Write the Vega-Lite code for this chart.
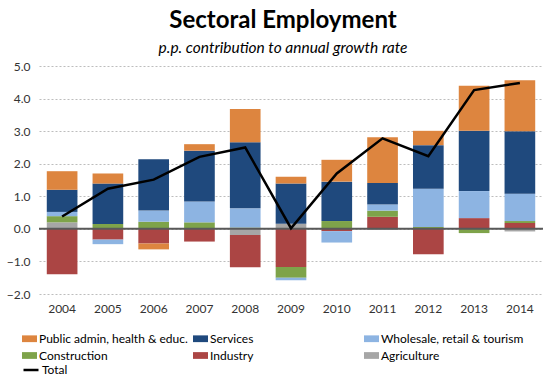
{
  "$schema": "https://vega.github.io/schema/vega-lite/v6.json",
  "width": 504,
  "height": 228,
  "autosize": "none",
  "padding": {"left": 39, "top": 66, "right": 1, "bottom": 83},
  "title": {
    "text": "Sectoral Employment",
    "subtitle": "p.p. contribution to annual growth rate",
    "anchor": "middle",
    "dx": -8,
    "offset": 4,
    "font": "Lato",
    "fontSize": 24,
    "fontWeight": "bold",
    "color": "#000000",
    "subtitleFont": "Lato",
    "subtitleFontSize": 15.5,
    "subtitleFontStyle": "italic",
    "subtitleColor": "#000000",
    "subtitlePadding": 8
  },
  "config": {
    "font": "Lato",
    "view": {"stroke": null},
    "axisY": {
      "domain": false,
      "ticks": false,
      "labelPadding": 9,
      "labelFontSize": 12,
      "labelColor": "#333333",
      "labelOverlap": false,
      "grid": true,
      "gridColor": "#bdbdbd",
      "gridDash": [2, 2],
      "gridWidth": 1
    }
  },
  "datasets": {
    "contrib": [
      {"year": "2004", "sector": "Agriculture", "value": 0.20},
      {"year": "2004", "sector": "Industry", "value": -1.39},
      {"year": "2004", "sector": "Construction", "value": 0.19},
      {"year": "2004", "sector": "Wholesale, retail & tourism", "value": 0.13},
      {"year": "2004", "sector": "Services", "value": 0.68},
      {"year": "2004", "sector": "Public admin, health & educ.", "value": 0.57},
      {"year": "2005", "sector": "Industry", "value": -0.33},
      {"year": "2005", "sector": "Construction", "value": 0.15},
      {"year": "2005", "sector": "Wholesale, retail & tourism", "value": -0.14},
      {"year": "2005", "sector": "Services", "value": 1.24},
      {"year": "2005", "sector": "Public admin, health & educ.", "value": 0.31},
      {"year": "2006", "sector": "Industry", "value": -0.45},
      {"year": "2006", "sector": "Construction", "value": 0.22},
      {"year": "2006", "sector": "Wholesale, retail & tourism", "value": 0.34},
      {"year": "2006", "sector": "Services", "value": 1.58},
      {"year": "2006", "sector": "Public admin, health & educ.", "value": -0.18},
      {"year": "2007", "sector": "Industry", "value": -0.39},
      {"year": "2007", "sector": "Construction", "value": 0.20},
      {"year": "2007", "sector": "Wholesale, retail & tourism", "value": 0.64},
      {"year": "2007", "sector": "Services", "value": 1.56},
      {"year": "2007", "sector": "Public admin, health & educ.", "value": 0.20},
      {"year": "2008", "sector": "Agriculture", "value": -0.19},
      {"year": "2008", "sector": "Industry", "value": -0.99},
      {"year": "2008", "sector": "Construction", "value": 0.04},
      {"year": "2008", "sector": "Wholesale, retail & tourism", "value": 0.59},
      {"year": "2008", "sector": "Services", "value": 2.03},
      {"year": "2008", "sector": "Public admin, health & educ.", "value": 1.02},
      {"year": "2009", "sector": "Agriculture", "value": 0.16},
      {"year": "2009", "sector": "Industry", "value": -1.17},
      {"year": "2009", "sector": "Construction", "value": -0.33},
      {"year": "2009", "sector": "Wholesale, retail & tourism", "value": -0.08},
      {"year": "2009", "sector": "Services", "value": 1.23},
      {"year": "2009", "sector": "Public admin, health & educ.", "value": 0.21},
      {"year": "2010", "sector": "Industry", "value": -0.07},
      {"year": "2010", "sector": "Construction", "value": 0.24},
      {"year": "2010", "sector": "Wholesale, retail & tourism", "value": -0.35},
      {"year": "2010", "sector": "Services", "value": 1.21},
      {"year": "2010", "sector": "Public admin, health & educ.", "value": 0.67},
      {"year": "2011", "sector": "Agriculture", "value": -0.03},
      {"year": "2011", "sector": "Industry", "value": 0.37},
      {"year": "2011", "sector": "Construction", "value": 0.19},
      {"year": "2011", "sector": "Wholesale, retail & tourism", "value": 0.19},
      {"year": "2011", "sector": "Services", "value": 0.66},
      {"year": "2011", "sector": "Public admin, health & educ.", "value": 1.40},
      {"year": "2012", "sector": "Industry", "value": -0.78},
      {"year": "2012", "sector": "Construction", "value": 0.06},
      {"year": "2012", "sector": "Wholesale, retail & tourism", "value": 1.17},
      {"year": "2012", "sector": "Services", "value": 1.34},
      {"year": "2012", "sector": "Public admin, health & educ.", "value": 0.44},
      {"year": "2013", "sector": "Industry", "value": 0.33},
      {"year": "2013", "sector": "Construction", "value": -0.13},
      {"year": "2013", "sector": "Wholesale, retail & tourism", "value": 0.83},
      {"year": "2013", "sector": "Services", "value": 1.85},
      {"year": "2013", "sector": "Public admin, health & educ.", "value": 1.38},
      {"year": "2014", "sector": "Agriculture", "value": -0.08},
      {"year": "2014", "sector": "Industry", "value": 0.18},
      {"year": "2014", "sector": "Construction", "value": 0.06},
      {"year": "2014", "sector": "Wholesale, retail & tourism", "value": 0.84},
      {"year": "2014", "sector": "Services", "value": 1.92},
      {"year": "2014", "sector": "Public admin, health & educ.", "value": 1.56}
    ],
    "total": [
      {"year": "2004", "series": "Total", "total": 0.38},
      {"year": "2005", "series": "Total", "total": 1.23},
      {"year": "2006", "series": "Total", "total": 1.51},
      {"year": "2007", "series": "Total", "total": 2.21},
      {"year": "2008", "series": "Total", "total": 2.50},
      {"year": "2009", "series": "Total", "total": 0.02},
      {"year": "2010", "series": "Total", "total": 1.70},
      {"year": "2011", "series": "Total", "total": 2.78},
      {"year": "2012", "series": "Total", "total": 2.23},
      {"year": "2013", "series": "Total", "total": 4.26},
      {"year": "2014", "series": "Total", "total": 4.48}
    ]
  },
  "layer": [
    {
      "data": {"name": "contrib"},
      "transform": [
        {
          "calculate": "indexof(['Agriculture', 'Industry', 'Construction', 'Wholesale, retail & tourism', 'Services', 'Public admin, health & educ.'], datum.sector)",
          "as": "stackOrder"
        }
      ],
      "mark": {"type": "bar"},
      "encoding": {
        "x": {
          "field": "year",
          "type": "ordinal",
          "title": null,
          "scale": {"paddingInner": 0.33, "paddingOuter": 0.17},
          "axis": {
            "orient": "bottom",
            "domain": false,
            "ticks": false,
            "labelAngle": 0,
            "labelPadding": 9,
            "labelFontSize": 12,
            "labelColor": "#333333"
          }
        },
        "y": {
          "field": "value",
          "type": "quantitative",
          "stack": "zero",
          "title": null,
          "scale": {"domain": [-2, 5], "nice": false, "zero": false},
          "axis": {"values": [-2, -1, 0, 1, 2, 3, 4, 5], "format": ".1f", "title": null}
        },
        "color": {
          "field": "sector",
          "type": "nominal",
          "scale": {
            "domain": ["Public admin, health & educ.", "Services", "Wholesale, retail & tourism", "Construction", "Industry", "Agriculture"],
            "range": ["#dd853f", "#1f497d", "#8db4e2", "#7ea34a", "#ab4544", "#a6a6a6"]
          },
          "legend": {
            "title": null,
            "orient": "none",
            "legendX": -17,
            "legendY": 265,
            "direction": "horizontal",
            "columns": 3,
            "gridAlign": "all",
            "columnPadding": 5,
            "rowPadding": 3,
            "labelFontSize": 12,
            "labelColor": "#000000",
            "labelLimit": 300,
            "labelOffset": 2,
            "symbolType": "M-1,-0.45H1V0.45H-1Z",
            "symbolSize": 225,
            "symbolStrokeWidth": 0
          }
        },
        "order": {"field": "stackOrder", "type": "quantitative"}
      }
    },
    {
      "data": {"values": [{}]},
      "mark": {"type": "rule", "color": "#595959", "strokeWidth": 2},
      "encoding": {
        "y": {"datum": 0, "type": "quantitative", "axis": {"values": [-2, -1, 0, 1, 2, 3, 4, 5], "format": ".1f", "title": null}}
      }
    },
    {
      "data": {"name": "total"},
      "mark": {"type": "line", "strokeWidth": 2.5},
      "encoding": {
        "x": {"field": "year", "type": "ordinal"},
        "y": {"field": "total", "type": "quantitative", "title": null, "axis": {"values": [-2, -1, 0, 1, 2, 3, 4, 5], "format": ".1f", "title": null}},
        "stroke": {
          "field": "series",
          "type": "nominal",
          "scale": {"range": ["#000000"]},
          "legend": {
            "title": null,
            "orient": "none",
            "legendX": -17,
            "legendY": 295,
            "labelFontSize": 12,
            "labelColor": "#000000",
            "labelOffset": 2,
            "symbolType": "stroke",
            "symbolSize": 225,
            "symbolStrokeWidth": 2.5
          }
        }
      }
    }
  ]
}
